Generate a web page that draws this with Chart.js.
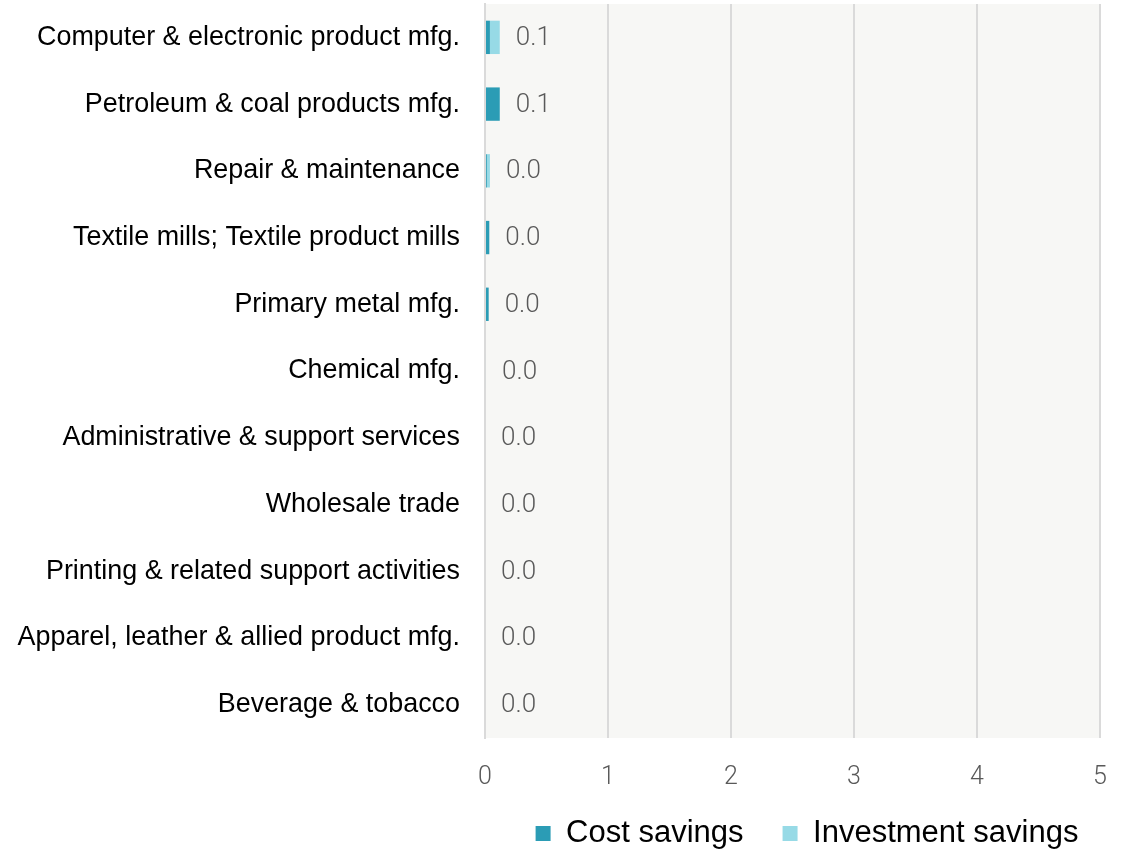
<!DOCTYPE html>
<html>
<head>
<meta charset="utf-8">
<script src="https://cdn.jsdelivr.net/npm/chart.js@4/dist/chart.umd.min.js"></script>
<style>
  html, body { margin: 0; padding: 0; background: #ffffff; }
  #wrap { width: 1123px; height: 854px; position: relative; }
</style>
</head>
<body>
<div id="wrap"><canvas id="c"></canvas></div>
<script>
const categories = [
  "Computer & electronic product mfg.",
  "Petroleum & coal products mfg.",
  "Repair & maintenance",
  "Textile mills; Textile product mills",
  "Primary metal mfg.",
  "Chemical mfg.",
  "Administrative & support services",
  "Wholesale trade",
  "Printing & related support activities",
  "Apparel, leather & allied product mfg.",
  "Beverage & tobacco"
];
const costSavings =       [0.04, 0.12, 0.015, 0.035, 0.03, 0.0,   0, 0, 0, 0, 0];
const investmentSavings = [0.08, 0.0,  0.025, 0.0,   0.0,  0.008, 0, 0, 0, 0, 0];
const seriesNames = ["Cost savings", "Investment savings"];
const xTicks = [0, 1, 2, 3, 4, 5];

const bgPlugin = {
  id: 'areaBg',
  beforeDraw(chart) {
    const {ctx, chartArea: a} = chart;
    ctx.save();
    ctx.fillStyle = '#f7f7f5';
    ctx.fillRect(a.left, a.top, a.right - a.left, a.bottom - a.top);
    ctx.restore();
  }
};

const totalsPlugin = {
  id: 'totals',
  afterDatasetsDraw(chart) {
    const {ctx} = chart;
    const xs = chart.scales.x, ys = chart.scales.y;
    ctx.save();
    ctx.font = '300 26px Roboto';
    ctx.fillStyle = '#595959';
    ctx.textAlign = 'left';
    ctx.textBaseline = 'middle';
    categories.forEach((c, i) => {
      const total = costSavings[i] + investmentSavings[i];
      const x = xs.getPixelForValue(total) + 16;
      const y = ys.getPixelForValue(i);
      ctx.fillText(total.toFixed(1), x, y + 1);
    });
    ctx.restore();
  }
};

const legendPlace = {
  id: 'legendPlace',
  afterLayout(chart) {
    const lg = chart.legend;
    if (lg) {
      const h = lg.height;
      lg.top = 779;
      lg.bottom = lg.top + h;
      lg.right = 1300;
      lg.left = 2 * 807 - lg.right;
    }
  }
};

new Chart(document.getElementById('c'), {
  type: 'bar',
  data: {
    labels: categories,
    datasets: [
      { label: seriesNames[0], data: costSavings, backgroundColor: '#2b9cb5', borderWidth: 0 },
      { label: seriesNames[1], data: investmentSavings, backgroundColor: '#97dae6', borderWidth: 0 }
    ]
  },
  options: {
    indexAxis: 'y',
    responsive: true,
    maintainAspectRatio: false,
    animation: false,
    barPercentage: 0.5,
    categoryPercentage: 1.0,
    layout: { padding: { top: 4, right: 23, left: 0, bottom: -44 } },
    scales: {
      x: {
        stacked: true,
        min: 0, max: 5,
        afterBuildTicks(s) { s.ticks = xTicks.map(v => ({ value: v })); },
        afterFit(s) { s.paddingLeft = 0; s.paddingRight = 0; },
        grid: { color: '#dadada', lineWidth: 2, drawTicks: false },
        border: { display: false },
        ticks: { padding: 25, color: '#595959', font: { family: 'Roboto', weight: '300', size: 25 } }
      },
      y: {
        stacked: true,
        afterFit(s) { s.width = 485; s.paddingTop = 0; s.paddingBottom = 0; },
        grid: { display: false, drawTicks: false },
        border: { display: true, color: '#dadada', width: 2 },
        ticks: { padding: 25, color: '#000000', font: { family: 'Liberation Sans', size: 26.9 } }
      }
    },
    plugins: {
      legend: {
        position: 'bottom',
        align: 'center',
        labels: {
          boxWidth: 15, boxHeight: 15, padding: 39,
          color: '#000000',
          font: { family: 'Liberation Sans', size: 31 }
        }
      },
      tooltip: { enabled: false }
    }
  },
  plugins: [bgPlugin, totalsPlugin, legendPlace]
});
</script>
</body>
</html>
